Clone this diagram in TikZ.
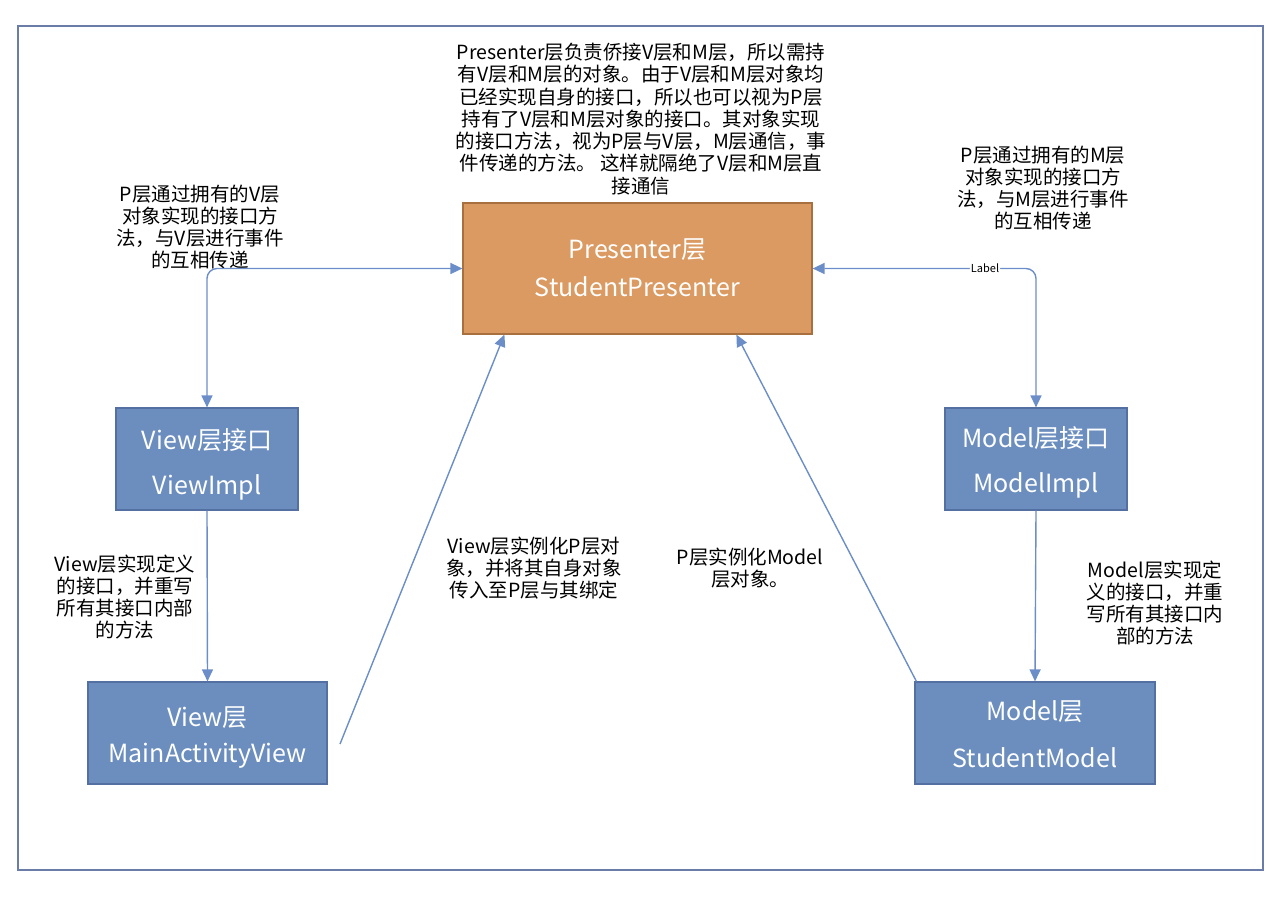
\documentclass[tikz,border=0pt]{standalone}
\usepackage{fontspec}
\setmainfont{Noto Sans CJK SC}
\usetikzlibrary{arrows.meta,calc}
\definecolor{bluefill}{HTML}{6C8EBF}
\definecolor{blueline}{HTML}{5470A3}
\definecolor{orangefill}{HTML}{DA9A62}
\definecolor{orangeline}{HTML}{A8703E}
\definecolor{framecol}{HTML}{6A7DA8}
\definecolor{conncol}{HTML}{6C8EC8}
\begin{document}
\begin{tikzpicture}[x=1pt,y=-1pt,
  bluebox/.style={draw=blueline,fill=bluefill,line width=1.2pt,inner sep=0pt},
  orangebox/.style={draw=orangeline,fill=orangefill,line width=1.2pt,inner sep=0pt},
  boxtext/.style={text=white,inner sep=0pt,font=\fontsize{25}{25}\selectfont},
  note/.style={align=center,inner sep=0pt,font=\fontsize{19.5}{22.3}\selectfont},
  conn/.style={draw=conncol,line width=1.4pt,-{Triangle[length=12pt,width=11pt]}},
  conn2/.style={draw=conncol,line width=1.4pt,{Triangle[length=12pt,width=11pt]}-{Triangle[length=12pt,width=11pt]},rounded corners=10pt}
]
\useasboundingbox (0,0) rectangle (1284,898);
\draw[framecol,line width=1.5pt] (18,26) rectangle (1263,870);

\node[orangebox,minimum width=349pt,minimum height=131pt] (pres) at (637.5,268.5) {};
\node[boxtext] (presa) at (637.5,250) {Presenter层};
\node[boxtext] (presb) at (637.5,287) {StudentPresenter};

\node[bluebox,minimum width=182pt,minimum height=102pt] (vi) at (207,459) {};
\node[boxtext] (via) at (207,440) {View层接口};
\node[boxtext] (vib) at (207,487) {ViewImpl};

\node[bluebox,minimum width=239pt,minimum height=102pt] (v) at (207.5,733) {};
\node[boxtext] (va) at (207.5,718) {View层};
\node[boxtext] (vb) at (207.5,756) {MainActivityView};

\node[bluebox,minimum width=182pt,minimum height=102pt] (mi) at (1036,459) {};
\node[boxtext] (mia) at (1036,438) {Model层接口};
\node[boxtext] (mib) at (1036,485) {ModelImpl};

\node[bluebox,minimum width=240pt,minimum height=102pt] (m) at (1035,733) {};
\node[boxtext] (ma) at (1035,712) {Model层};
\node[boxtext] (mb) at (1035,758) {StudentModel};

\node[note] (top) at (641,119) {Presenter层负责侨接V层和M层，所以需持\\有V层和M层的对象。由于V层和M层对象均\\已经实现自身的接口，所以也可以视为P层\\持有了V层和M层对象的接口。其对象实现\\的接口方法，视为P层与V层，M层通信，事\\件传递的方法。 这样就隔绝了V层和M层直\\接通信};
\node[note] (lt) at (200,227) {P层通过拥有的V层\\对象实现的接口方\\法，与V层进行事件\\的互相传递};
\node[note] (rt) at (1043,188) {P层通过拥有的M层\\对象实现的接口方\\法，与M层进行事件\\的互相传递};
\node[note] (lb) at (125,597) {View层实现定义\\的接口，并重写\\所有其接口内部\\的方法};
\node[note] (rb) at (1155,603) {Model层实现定\\义的接口，并重\\写所有其接口内\\部的方法};
\node[note] (cl) at (534,568) {View层实例化P层对\\象，并将其自身对象\\传入至P层与其绑定};
\node[note] (cr) at (750,568) {P层实例化Model\\层对象。};

\coordinate (vfree) at (340,744);
\coordinate (presl) at ($(pres.south west)+(42,0)$);
\coordinate (presr) at ($(pres.south west)+(274,0)$);

\draw[conn2] (vi.north) |- (pres.west);
\draw[conn2] (pres.east) -| node[pos=0.386,fill=white,inner sep=1pt,font=\fontsize{11}{11}\selectfont]{Label} (mi.north);
\draw[conn] (vi.south) -- (v.north);
\draw[conn] (mi.south) -- (m.north);
\draw[conn] (vfree) -- (presl);
\draw[conn] ($(m.north west)+(2,0)$) -- (presr);
\end{tikzpicture}
\end{document}
